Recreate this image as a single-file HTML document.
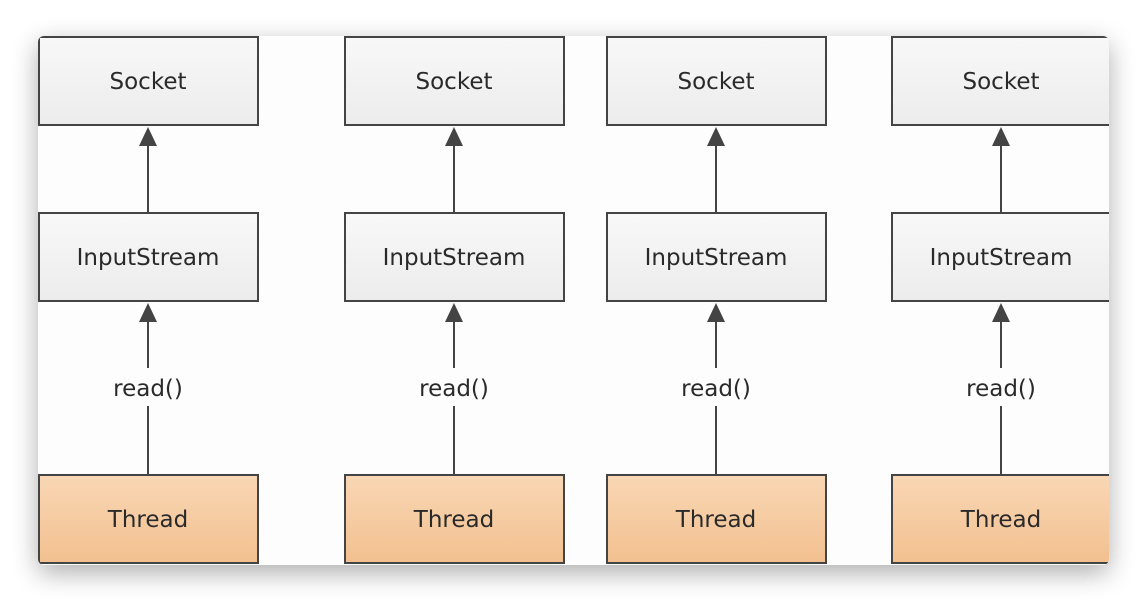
<!DOCTYPE html>
<html><head><style>
html,body{margin:0;padding:0;background:#fff;width:1146px;height:602px;overflow:hidden}
.card{position:absolute;left:38px;top:36px;width:1071px;height:529px;background:#fcfdfc;border-radius:6px;box-shadow:0 8px 26px rgba(0,0,0,0.32);overflow:hidden}
svg{position:absolute;left:0;top:0}
text{font-family:"DejaVu Sans","Liberation Sans",sans-serif;font-size:23px;fill:#2a2a2a;text-anchor:middle}
</style></head><body>
<div class="card"></div>
<svg width="1146" height="602" viewBox="0 0 1146 602">
<defs>
<linearGradient id="g" x1="0" y1="0" x2="0" y2="1"><stop offset="0" stop-color="#f8f8f8"/><stop offset="1" stop-color="#ececec"/></linearGradient>
<linearGradient id="o" x1="0" y1="0" x2="0" y2="1"><stop offset="0" stop-color="#f9d7b5"/><stop offset="1" stop-color="#f2c08f"/></linearGradient>
<clipPath id="c"><rect x="38" y="36" width="1071" height="529" rx="6"/></clipPath>
</defs>
<g clip-path="url(#c)" stroke="#444" stroke-width="2">
<g id="col">
<rect x="39" y="37" width="219" height="88" fill="url(#g)"/>
<rect x="39" y="213" width="219" height="88" fill="url(#g)"/>
<rect x="39" y="475" width="219" height="88" fill="url(#o)"/>
<line x1="148" y1="140" x2="148" y2="213"/>
<polygon points="148,127 139,146 157,146" fill="#444" stroke="none"/>
<line x1="148" y1="316" x2="148" y2="368"/>
<line x1="148" y1="406" x2="148" y2="475"/>
<polygon points="148,303 139,322 157,322" fill="#444" stroke="none"/>
<text x="148" y="89" stroke="none">Socket</text>
<text x="148" y="265" stroke="none">InputStream</text>
<text x="148" y="396" stroke="none">read()</text>
<text x="148" y="527" stroke="none" fill="#3a2a1a">Thread</text>
</g>
<use href="#col" transform="translate(306,0)"/>
<use href="#col" transform="translate(568,0)"/>
<use href="#col" transform="translate(853,0)"/>
</g>
</svg>
</body></html>
